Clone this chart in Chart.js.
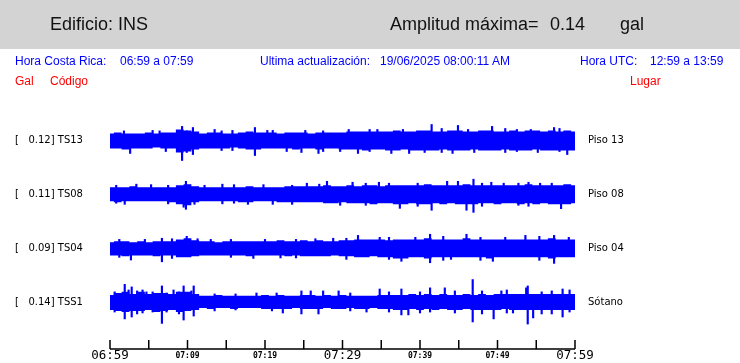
<!DOCTYPE html>
<html>
<head>
<meta charset="utf-8">
<script src="https://cdn.jsdelivr.net/npm/chart.js@4/dist/chart.umd.min.js"></script>
<style>
  html, body { margin:0; padding:0; background:#fff; }
  #wrap { position:relative; width:740px; height:363px; overflow:hidden; }
  #hdr { position:absolute; left:0; top:0; width:740px; height:49px; background:#d3d3d3; }
  .t { position:absolute; white-space:pre; font-family:"Liberation Sans", Arial, sans-serif; }
  .h { font-size:18px; line-height:20px; top:14px; color:#111; }
  .b { font-size:12px; line-height:14px; top:54px; color:#0000ff; }
  .r { font-size:12px; line-height:14px; top:74px; color:#ff0000; }
  canvas { position:absolute; left:0; top:0; }
</style>
</head>
<body>
<div id="wrap">
  <div id="hdr"></div>
  <canvas id="c" width="740" height="363"></canvas>
  <div class="t h" style="left:50px">Edificio: INS</div>
  <div class="t h" style="left:390px">Amplitud máxima=</div>
  <div class="t h" style="left:550px">0.14</div>
  <div class="t h" style="left:620px">gal</div>
  <div class="t b" style="left:15px">Hora Costa Rica:</div>
  <div class="t b" style="left:120px">06:59 a 07:59</div>
  <div class="t b" style="left:260px">Ultima actualización:</div>
  <div class="t b" style="left:380px">19/06/2025 08:00:11 AM</div>
  <div class="t b" style="left:580px">Hora UTC:</div>
  <div class="t b" style="left:650px">12:59 a 13:59</div>
  <div class="t r" style="left:15px">Gal</div>
  <div class="t r" style="left:50px">Código</div>
  <div class="t r" style="left:630px">Lugar</div>
</div>
<script>
// ---- data (gal), one value per minute from 06:59 to 07:59 ----
const codes = ['TS13', 'TS08', 'TS04', 'TSS1'];
const places = ['Piso 13', 'Piso 08', 'Piso 04', 'Sótano'];
const maxGal = [0.12, 0.11, 0.09, 0.14];
const timeLabels = ['06:59','','07:09','','07:19','','07:29','','07:39','','07:49','','07:59'];

// typical positive / negative envelope of each record (gal)
const ts13Hi = [0.044,0.050,0.044,0.044,0.044,0.050,0.044,0.050,0.050,0.069,0.063,0.056,0.044,0.050,0.050,0.044,0.044,0.050,0.056,0.050,0.050,0.050,0.044,0.050,0.050,0.050,0.044,0.050,0.050,0.050,0.050,
                0.056,0.056,0.056,0.056,0.056,0.056,0.063,0.056,0.056,0.063,0.063,0.056,0.056,0.063,0.063,0.056,0.056,0.063,0.063,0.056,0.056,0.063,0.056,0.063,0.063,0.056,0.063,0.056,0.063,0.056];
const ts13Lo = [0.050,0.050,0.056,0.050,0.050,0.050,0.044,0.050,0.050,0.075,0.069,0.056,0.050,0.050,0.050,0.050,0.044,0.050,0.056,0.056,0.050,0.050,0.050,0.050,0.056,0.050,0.050,0.056,0.050,0.050,0.056,
                0.056,0.056,0.063,0.056,0.056,0.063,0.063,0.056,0.063,0.063,0.063,0.063,0.056,0.063,0.063,0.063,0.056,0.063,0.063,0.063,0.056,0.063,0.063,0.063,0.056,0.063,0.063,0.063,0.063,0.063];
const ts08Hi = [0.044,0.044,0.044,0.050,0.044,0.044,0.044,0.044,0.044,0.056,0.063,0.050,0.044,0.044,0.044,0.044,0.044,0.044,0.050,0.044,0.044,0.044,0.044,0.050,0.050,0.050,0.050,0.050,0.056,0.050,0.050,
                0.056,0.050,0.056,0.056,0.050,0.056,0.056,0.056,0.056,0.056,0.063,0.056,0.056,0.056,0.056,0.063,0.056,0.056,0.056,0.056,0.056,0.056,0.056,0.063,0.056,0.056,0.056,0.056,0.063,0.056];
const ts08Lo = [0.044,0.050,0.044,0.044,0.044,0.044,0.044,0.044,0.050,0.063,0.069,0.050,0.044,0.044,0.044,0.044,0.044,0.050,0.050,0.044,0.044,0.044,0.050,0.050,0.050,0.050,0.050,0.050,0.056,0.056,0.050,
                0.056,0.056,0.056,0.063,0.056,0.056,0.063,0.063,0.056,0.063,0.063,0.056,0.063,0.056,0.063,0.063,0.063,0.056,0.056,0.063,0.056,0.056,0.063,0.056,0.063,0.056,0.063,0.063,0.063,0.056];
const ts04Hi = [0.038,0.044,0.044,0.038,0.044,0.038,0.044,0.044,0.044,0.056,0.063,0.050,0.044,0.044,0.038,0.044,0.044,0.044,0.044,0.044,0.044,0.044,0.050,0.044,0.044,0.050,0.044,0.050,0.044,0.044,0.050,
                0.050,0.056,0.056,0.056,0.056,0.050,0.056,0.056,0.056,0.056,0.063,0.056,0.056,0.056,0.056,0.063,0.056,0.056,0.056,0.056,0.056,0.056,0.056,0.056,0.056,0.056,0.063,0.056,0.056,0.056];
const ts04Lo = [0.044,0.044,0.050,0.044,0.044,0.044,0.050,0.044,0.044,0.056,0.056,0.050,0.044,0.044,0.044,0.044,0.044,0.044,0.050,0.044,0.044,0.044,0.044,0.050,0.044,0.050,0.050,0.050,0.050,0.044,0.050,
                0.050,0.056,0.056,0.050,0.056,0.056,0.063,0.063,0.056,0.056,0.063,0.056,0.056,0.056,0.056,0.056,0.056,0.056,0.063,0.056,0.056,0.056,0.056,0.056,0.056,0.056,0.063,0.056,0.056,0.056];
const tss1Hi = [0.044,0.056,0.063,0.050,0.063,0.050,0.056,0.056,0.050,0.063,0.063,0.050,0.038,0.038,0.044,0.038,0.038,0.038,0.038,0.038,0.044,
                0.038,0.044,0.038,0.038,0.044,0.044,0.038,0.044,0.038,0.044,0.038,0.038,0.038,0.038,
                0.044,0.044,0.044,0.044,0.050,0.044,0.050,0.044,0.050,0.044,0.044,0.050,0.044,0.050,0.044,0.050,0.050,0.050,0.050,0.050,0.050,0.050,0.050,0.050,0.050,0.050];
const tss1Lo = [0.050,0.056,0.063,0.056,0.056,0.050,0.063,0.056,0.050,0.063,0.056,0.050,0.038,0.044,0.038,0.038,0.044,0.038,0.038,0.038,0.044,
                0.044,0.044,0.044,0.038,0.044,0.044,0.044,0.038,0.044,0.044,0.038,0.044,0.044,0.038,
                0.044,0.044,0.050,0.050,0.044,0.050,0.044,0.050,0.044,0.050,0.050,0.044,0.050,0.050,0.050,0.050,0.044,0.050,0.050,0.050,0.050,0.050,0.050,0.050,0.050,0.050];

// peaks beyond the envelope: [minute, up (gal), down (gal)]
const ts13Peaks = [[2.6,0,0.081],[5.5,0.063,0],[7.2,0,0.069],[9.3,0.088,0.125],[9.9,0.06,0.075],[10.7,0.081,0.088],[13.5,0.069,0],[15.8,0.063,0.063],
                   [18.7,0.081,0.094],[20.3,0.063,0],[22.8,0,0.069],[24.7,0,0.075],[26.9,0,0.081],[29.7,0,0.069],[32,0,0.081],[34.5,0.069,0],
                   [36.3,0,0.081],[38.6,0,0.081],[40.6,0,0.075],[41.5,0.1,0],[44.2,0,0.081],[44.9,0.094,0],[47,0,0.075],[49.3,0.088,0],
                   [52.5,0.069,0.069],[55.2,0,0.075],[57.3,0.081,0],[59,0,0.088]];
const ts08Peaks = [[1.9,0,0.063],[5.3,0.06,0],[9.5,0,0.081],[9.8,0.081,0.094],[10.9,0,0.063],[14.5,0.063,0.06],[17.8,0,0.063],[21,0,0.063],
                   [25.4,0.069,0],[28,0.081,0],[29.7,0,0.069],[31.3,0.075,0],[34.7,0.075,0],[37.4,0,0.088],[41.5,0,0.1],[43.5,0.081,0],
                   [44.9,0.081,0],[46,0,0.1],[46.9,0.094,0.113],[49.2,0.075,0],[52.7,0.069,0.069],[55.5,0.069,0],[58.2,0,0.09]];
const ts04Peaks = [[2.7,0,0.073],[6.7,0.063,0.084],[9.9,0.075,0],[13,0.056,0],[18.5,0,0.063],[22,0,0.06],[26.5,0.06,0],[32,0.081,0],
                   [34.8,0.069,0],[37.6,0,0.081],[41.3,0.088,0.09],[44,0,0.069],[46,0.088,0],[49.4,0,0.081],[51,0.069,0],[53.6,0.081,0],[57.3,0.081,0.094]];
const tss1Peaks = [[1.9,0.11,0.106],[2.4,0.075,0],[2.8,0.094,0.094],[4.2,0.075,0.069],[4.7,0.063,0],[6.7,0.1,0.134],[7.3,0.056,0.063],[8.2,0.075,0],
                   [9.5,0.1,0.113],[10.5,0.069,0],[10.8,0.1,0.088],[18.9,0.056,0],[20.9,0,0.056],[22.3,0,0.069],[24.7,0.069,0.075],[25.9,0.069,0],
                   [26.9,0,0.075],[27.5,0.069,0],[29.5,0.069,0],[33.1,0,0.063],[34.8,0.081,0],[37.6,0.081,0.081],[38.5,0,0.081],[41.3,0.088,0.063],
                   [43.2,0.088,0],[46.8,0.14,0.125],[49.5,0,0.106],[50.5,0.069,0],[52,0,0.069],[53.7,0.088,0],[53.9,0.1,0.138],[54.6,0,0.1],
                   [55.7,0.063,0.075],[58.4,0.081,0.094]];

// smaller excursions just outside the envelope: [minute, up (gal), down (gal)]
const ts13Minor = [[1.8,0.06,0],[6.4,0.06,0],[8.8,0.063,0],[14.4,0.06,0.063],[21,0.063,0],[25.2,0.063,0],[27.5,0.06,0.069],[30.8,0.069,0],
                   [33.5,0.069,0.069],[37.8,0.069,0],[42.8,0.075,0.075],[46.2,0.069,0],[51,0.075,0.075],[54.3,0.069,0],[58,0.075,0.069]];
const ts08Minor = [[0.8,0.056,0.056],[3.4,0.063,0],[7.5,0.056,0.06],[12.2,0.056,0],[16,0.06,0.056],[19.8,0.06,0],[23.5,0.056,0.063],[27,0.063,0],
                   [33,0.069,0.069],[36,0.069,0],[39.7,0.069,0.075],[48,0.069,0.075],[50.8,0.069,0],[54,0.075,0.075],[57,0.069,0]];
const ts04Minor = [[1.2,0.056,0.056],[4.5,0.056,0],[8,0.06,0.063],[11.3,0.06,0],[15.6,0.056,0.056],[20,0.056,0],[24,0.056,0.06],[28.8,0.063,0],
                   [30.5,0.063,0.069],[36,0.069,0.069],[39.4,0.069,0],[43,0.075,0.075],[47.8,0.069,0.075],[55.4,0.075,0.075],[59.2,0.069,0]];
const tss1Minor = [[0.6,0.063,0.063],[3.5,0.069,0.075],[5.5,0.063,0.063],[8.9,0.063,0.075],[13.5,0.05,0.056],[16.2,0.05,0.05],[21.5,0.056,0],[31,0.056,0.056],
                   [36,0.063,0.063],[40,0.063,0.069],[44.5,0.069,0.069],[48,0.069,0.075],[51.2,0.075,0.069],[57,0.069,0.075],[59.3,0.075,0.063]];

// ---- layout (trace baselines on the gal axis) ----
const his = [ts13Hi, ts08Hi, ts04Hi, tss1Hi];
const los = [ts13Lo, ts08Lo, ts04Lo, tss1Lo];
const peaks = [ts13Peaks.concat(ts13Minor), ts08Peaks.concat(ts08Minor), ts04Peaks.concat(ts04Minor), tss1Peaks.concat(tss1Minor)];
const baseline = [1.303, 0.967, 0.629, 0.294];
const BLUE = '#0000ff';

const datasets = [];
codes.forEach((c, k) => {
  const off = baseline[k];
  datasets.push({ type:'line', label:c+' +', data: his[k].map((v,i)=>({x:i, y:off+v})),
    borderColor:BLUE, backgroundColor:BLUE, borderWidth:0, pointRadius:0, tension:0, fill:'+1', stepped:'middle' });
  datasets.push({ type:'line', label:c+' -', data: los[k].map((v,i)=>({x:i, y:off-v})),
    borderColor:BLUE, backgroundColor:BLUE, borderWidth:0, pointRadius:0, tension:0, fill:false, stepped:'middle' });
  datasets.push({ type:'bar', label:c+' peaks', data: peaks[k].map(p=>({x:p[0], y:[off-p[2], off+p[1]]})),
    backgroundColor:BLUE, borderWidth:0, barThickness:1.5, grouped:false });
});

const axisMarks = {
  id:'axisMarks',
  afterDatasetsDraw(chart) {
    const sx = chart.scales.x, ctx = chart.ctx, b = chart.chartArea.bottom;
    ctx.save();
    ctx.strokeStyle = '#000'; ctx.lineWidth = 1.5;
    ctx.beginPath();
    ctx.moveTo(sx.left, b); ctx.lineTo(sx.right, b);
    sx.ticks.forEach((t, i) => { const px = sx.getPixelForTick(i); ctx.moveTo(px, b); ctx.lineTo(px, b - 9); });
    ctx.stroke();
    ctx.restore();
  }
};

const noPad = s => { s.paddingTop = 0; s.paddingBottom = 0; };
const yMax = 1.556;
new Chart(document.getElementById('c'), {
  type:'line',
  data:{ datasets },
  plugins:[axisMarks],
  options:{
    responsive:false, animation:false, devicePixelRatio:1,
    layout:{ padding:{ left:15, top:100, right:0, bottom:0 } },
    plugins:{ legend:{display:false}, tooltip:{enabled:false} },
    scales:{
      x:{ type:'linear', min:0, max:60, offset:false,
          grid:{ display:false, drawTicks:false, offset:false }, border:{ display:false },
          afterFit: s => { s.height = 14; },
          afterBuildTicks: s => { s.ticks = timeLabels.map((l,i)=>({value:i*5})); },
          ticks:{ autoSkip:false, maxRotation:0, padding:0, color:'#000',
                  callback:(v,i)=>timeLabels[i],
                  font: ctx => (ctx.index % 6 === 0) ? {family:'DejaVu Sans Mono', size:12.5, lineHeight:'14px'} : {family:'DejaVu Sans Mono', size:8, weight:'bold', lineHeight:'14px'} } },
      y:{ type:'linear', position:'left', min:0, max:yMax,
          grid:{ display:false, drawTicks:false }, border:{ display:false },
          afterFit: s => { s.width = 95; noPad(s); },
          afterBuildTicks: s => { s.ticks = baseline.map(v=>({value:v})); },
          ticks:{ autoSkip:false, crossAlign:'far', padding:0, color:'#000',
                  font:{ family:'DejaVu Sans', size:10 },
                  callback:(v,i)=>'[   ' + maxGal[i].toFixed(2) + '] ' + codes[i] } },
      y2:{ type:'linear', position:'right', min:0, max:yMax,
          grid:{ display:false, drawTicks:false }, border:{ display:false },
          afterFit: s => { s.width = 165; noPad(s); },
          afterBuildTicks: s => { s.ticks = baseline.map(v=>({value:v})); },
          ticks:{ autoSkip:false, crossAlign:'near', padding:13, color:'#000',
                  font:{ family:'DejaVu Sans', size:10 },
                  callback:(v,i)=>places[i] } }
    }
  }
});
</script>
</body>
</html>
